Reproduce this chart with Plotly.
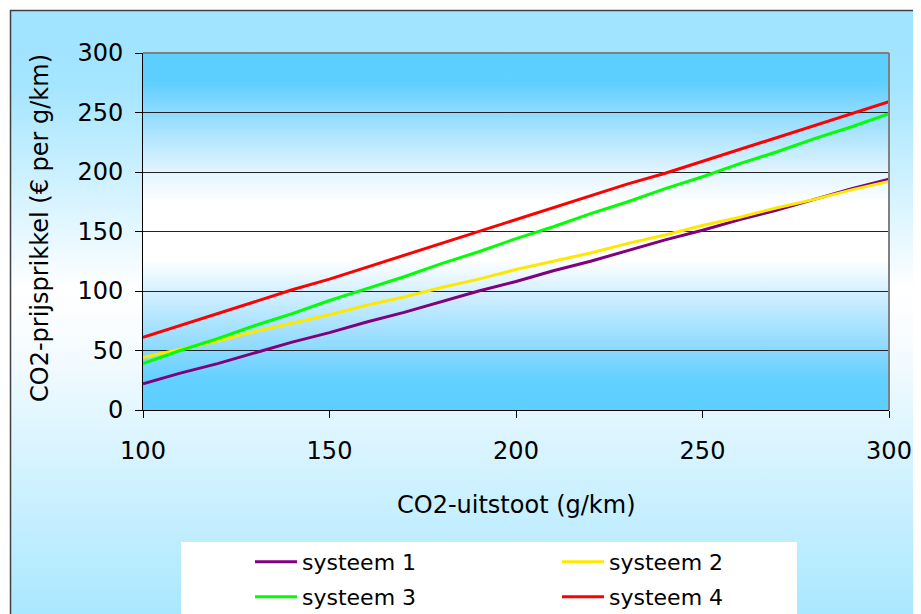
import base64
import plotly.graph_objects as go

# ---- data ----
x_vals = list(range(100, 301, 10))
systeem1 = [22, 31, 39, 48, 57, 65, 74, 82, 91, 100, 108, 117, 125, 134, 143, 151, 160, 168, 177, 186, 194]
systeem2 = [44, 51, 58, 66, 73, 80, 88, 95, 103, 110, 118, 125, 132, 140, 147, 155, 162, 170, 177, 185, 192]
systeem3 = [39, 50, 60, 71, 81, 92, 102, 112, 123, 133, 144, 154, 165, 175, 186, 196, 207, 217, 228, 238, 249]
systeem4 = [61, 71, 81, 91, 101, 110, 120, 130, 140, 150, 160, 170, 180, 190, 199, 209, 219, 229, 239, 249, 259]
series_names = ["systeem 1", "systeem 2", "systeem 3", "systeem 4"]
x_ticks = [100, 150, 200, 250, 300]
y_ticks = [0, 50, 100, 150, 200, 250, 300]

# ---- layout geometry (page pixels; page body adds an 8px offset) ----
OFF = 8
PAGE_W, PAGE_H = 921, 614
L, R, T, B = 143, 889, 53, 410
PW, PH = R - L, B - T
W, H = PAGE_W - OFF, PAGE_H - OFF


def px(xp):
    return (xp - L) / PW


def py(yp):
    return (B - yp) / PH


def grad_uri(stops):
    s = "".join(f'<stop offset="{o}" stop-color="{c}"/>' for o, c in stops)
    svg = ('<svg xmlns="http://www.w3.org/2000/svg" width="100" height="100" '
           'viewBox="0 0 100 100" preserveAspectRatio="none"><defs>'
           f'<linearGradient id="g" x1="0" y1="0" x2="0" y2="1">{s}</linearGradient></defs>'
           '<rect x="0" y="0" width="100" height="100" fill="url(#g)"/></svg>')
    return "data:image/svg+xml;base64," + base64.b64encode(svg.encode()).decode()


FONT = "DejaVu Sans"
colors = ["#800080", "#ffe800", "#00ff00", "#ff0000"]
series = [systeem1, systeem2, systeem3, systeem4]
legends = ["legend", "legend", "legend2", "legend2"]

fig = go.Figure()
for name, ys, c, lg in zip(series_names, series, colors, legends):
    fig.add_trace(go.Scatter(x=x_vals, y=ys, name=name, mode="lines",
                             line=dict(color=c, width=3), legend=lg))

paper_grad = grad_uri([(0, "#a0e4ff"), (0.12, "#a4e5ff"), (0.45, "#ffffff"),
                       (0.55, "#f4fbff"), (1, "#a4e6ff")])
plot_grad = grad_uri([(0, "#5ccfff"), (0.08, "#5ecfff"), (0.167, "#8edbff"),
                      (0.33, "#e0f4ff"), (0.42, "#ffffff"), (0.58, "#ffffff"),
                      (0.667, "#d5f0ff"), (0.833, "#8ad9ff"), (0.92, "#60d0ff"),
                      (1, "#5ccfff")])

images = [
    dict(source=paper_grad, xref="paper", yref="paper", x=px(10), y=py(10),
         sizex=(PAGE_W + 20 - 10) / PW, sizey=(PAGE_H + 20 - 10) / PH,
         xanchor="left", yanchor="top", sizing="stretch", layer="below"),
    dict(source=plot_grad, xref="paper", yref="paper", x=0, y=1,
         sizex=1, sizey=1, xanchor="left", yanchor="top", sizing="stretch", layer="below"),
]

shapes = [
    # legend white box
    dict(type="rect", xref="paper", yref="paper", x0=px(181), x1=px(797),
         y0=py(PAGE_H + 20), y1=py(542), fillcolor="white", line=dict(width=0), layer="below"),
    # outer frame
    dict(type="line", xref="paper", yref="paper", x0=px(10), x1=px(PAGE_W + 20),
         y0=py(10.5), y1=py(10.5), line=dict(color="#404040", width=1.5), layer="below"),
    dict(type="line", xref="paper", yref="paper", x0=px(10.5), x1=px(10.5),
         y0=py(10), y1=py(PAGE_H + 20), line=dict(color="#404040", width=1.5), layer="below"),
    # plot frame top / right (gray)
    dict(type="line", xref="paper", yref="paper", x0=0, x1=1, y0=1, y1=1,
         line=dict(color="#808080", width=2), layer="above"),
    dict(type="line", xref="paper", yref="paper", x0=1, x1=1, y0=0, y1=1,
         line=dict(color="#808080", width=2), layer="above"),
]

annotations = [
    dict(text="CO2-uitstoot (g/km)", xref="paper", yref="paper", x=0.5, y=py(505),
         xanchor="center", yanchor="middle", showarrow=False,
         font=dict(family=FONT, size=24, color="black")),
    dict(text="CO2-prijsprikkel (€ per g/km)", xref="paper", yref="paper", x=px(40),
         y=py(228), xanchor="center", yanchor="middle", textangle=-90, showarrow=False,
         font=dict(family=FONT, size=24, color="black")),
]

leg_common = dict(orientation="h", xanchor="left", yanchor="middle",
                  bgcolor="rgba(0,0,0,0)", borderwidth=0, itemwidth=42,
                  entrywidth=250, entrywidthmode="pixels",
                  font=dict(family=FONT, size=22, color="black"))

fig.update_layout(
    width=W, height=H,
    margin=dict(l=L - OFF, r=PAGE_W - R, t=T - OFF, b=PAGE_H - B, pad=0, autoexpand=False),
    paper_bgcolor="white",
    plot_bgcolor="rgba(0,0,0,0)",
    images=images,
    shapes=shapes,
    annotations=annotations,
    showlegend=True,
    legend=dict(x=px(250), y=py(562), **leg_common),
    legend2=dict(x=px(250), y=py(597), **leg_common),
    xaxis=dict(range=[100, 300], tickvals=x_ticks, ticktext=[str(v) for v in x_ticks],
               showgrid=False, zeroline=False, showline=True, linecolor="black", linewidth=1,
               ticks="outside", ticklen=7, tickcolor="black", tickwidth=1,
               ticklabelstandoff=12,
               tickfont=dict(family=FONT, size=24, color="black")),
    yaxis=dict(range=[0, 300], tickvals=y_ticks, ticktext=[str(v) for v in y_ticks],
               showgrid=True, gridcolor="#222222", gridwidth=1, zeroline=False,
               showline=True, linecolor="black", linewidth=1,
               ticks="outside", ticklen=7, tickcolor="black", tickwidth=1,
               ticklabelstandoff=7,
               tickfont=dict(family=FONT, size=24, color="black")),
)

fig.write_html("out.html")
